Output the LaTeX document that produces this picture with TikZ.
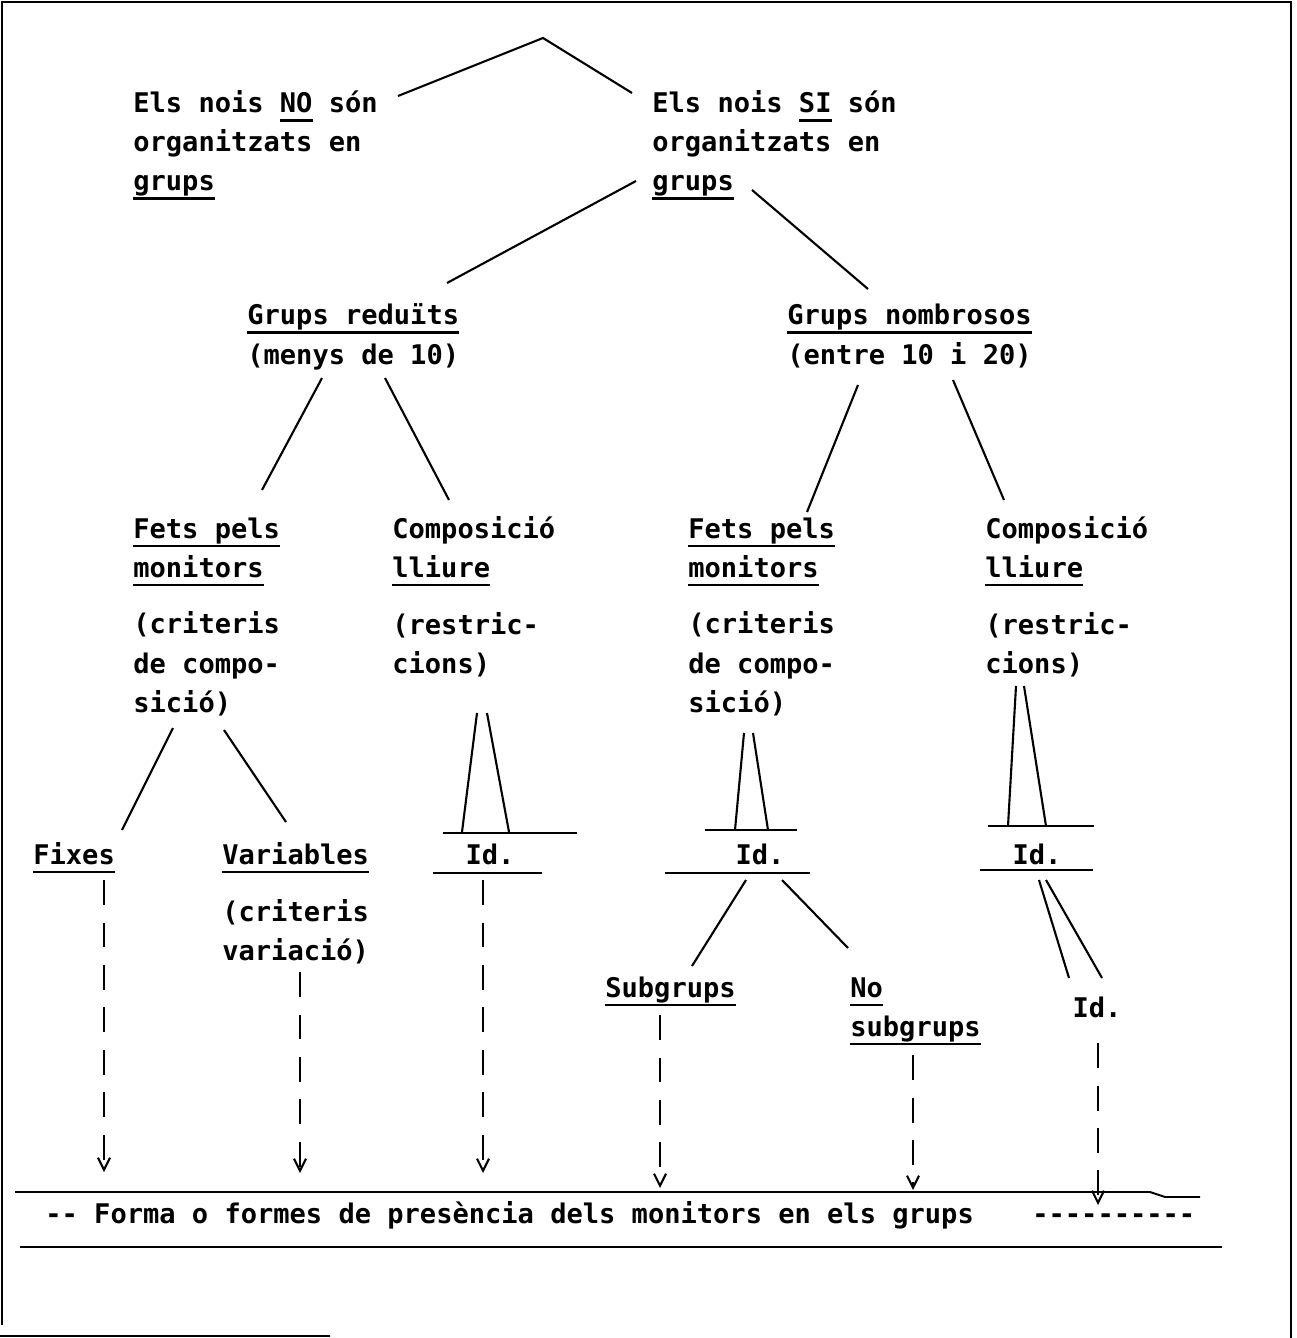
\documentclass[tikz,border=0pt]{standalone}
\usepackage{fontspec}
\setmonofont{DejaVu Sans Mono}
\usetikzlibrary{arrows.meta}
\newsavebox\ulbox
\newcommand\ulr[1]{\sbox\ulbox{#1}\rlap{\rule[-5pt]{\wd\ulbox}{1.3pt}}\usebox\ulbox}

\begin{document}
\begin{tikzpicture}[x=0.02cm, y=-0.02cm,
    every node/.style={font=\ttfamily\bfseries\fontsize{15.4}{22.2}\selectfont, inner sep=0pt},
    txt/.style={anchor=base west, align=left},
    idt/.style={anchor=base},
    br/.style={line width=1.2pt},
    bar/.style={line width=1.1pt},
    dsh/.style={line width=1.1pt, dash pattern=on 0.5cm off 0.35cm,
      -{Straight Barb[length=2.4mm, width=2.4mm, line width=1.2pt]}},
    frame/.style={line width=1pt},
  ]
  \useasboundingbox (0,0) rectangle (1297,1338);

  % frame
  \draw[frame] (2,1325) -- (2,2) -- (1291,2) -- (1291,1338);
  \draw[frame] (0,1336) -- (330,1336);

  % texts (multi-line nodes sit on the baseline of their last line)
  \node[txt] (no)  at (133,191) {Els nois \ulr{NO} són\\organitzats en\\\ulr{grups}};
  \node[txt] (si)  at (652,191) {Els nois \ulr{SI} són\\organitzats en\\\ulr{grups}};
  \node[txt] (red) at (247,364) {\ulr{Grups reduïts}\\(menys de 10)};
  \node[txt] (nom) at (787,364) {\ulr{Grups nombrosos}\\(entre 10 i 20)};
  \node[txt] (fm1) at (133,577) {\ulr{Fets pels}\\\ulr{monitors}};
  \node[txt] (cr1) at (133,712) {(criteris\\de compo-\\sició)};
  \node[txt] (cl1) at (392,577) {Composició\\\ulr{lliure}};
  \node[txt] (rs1) at (392,673) {(restric-\\cions)};
  \node[txt] (fm2) at (688,577) {\ulr{Fets pels}\\\ulr{monitors}};
  \node[txt] (cr2) at (688,712) {(criteris\\de compo-\\sició)};
  \node[txt] (cl2) at (985,577) {Composició\\\ulr{lliure}};
  \node[txt] (rs2) at (985,673) {(restric-\\cions)};
  \node[txt] (fix) at (33,864)  {\ulr{Fixes}};
  \node[txt] (var) at (222,864) {\ulr{Variables}};
  \node[txt] (crv) at (222,960) {(criteris\\variació)};
  \node[idt] (id1) at (490,864) {Id.};
  \node[idt] (id2) at (760,864) {Id.};
  \node[idt] (id3) at (1037,864) {Id.};
  \node[txt] (sub) at (605,997) {\ulr{Subgrups}};
  \node[txt] (nsb) at (850,1036) {\ulr{No}\\\ulr{subgrups}};
  \node[idt] (id4) at (1097,1017) {Id.};
  \node[txt] (forma) at (45,1223) {-- Forma o formes de presència dels monitors en els grups};
  \node[txt] (rest)  at (1032,1223) {----------};

  % branch ends
  \coordinate (apex) at (543,38);
  \coordinate (no-t) at (398,96);   \coordinate (si-t) at (632,93);
  \coordinate (si-l) at (636,181);  \coordinate (red-t) at (447,283);
  \coordinate (si-r) at (752,190);  \coordinate (nom-t) at (868,289);
  \coordinate (red-l) at (322,378); \coordinate (fm1-t) at (262,490);
  \coordinate (red-r) at (385,378); \coordinate (cl1-t) at (449,500);
  \coordinate (nom-l) at (858,385); \coordinate (fm2-t) at (807,512);
  \coordinate (nom-r) at (953,380); \coordinate (cl2-t) at (1004,500);
  \coordinate (cr1-l) at (173,728); \coordinate (fix-t) at (122,830);
  \coordinate (cr1-r) at (224,730); \coordinate (var-t) at (286,822);
  \coordinate (id2-l) at (746,880); \coordinate (sub-t) at (692,966);
  \coordinate (id2-r) at (782,880); \coordinate (nsb-t) at (848,948);

  \draw[br] (no-t) -- (apex) -- (si-t);
  \draw[br] (si-l) -- (red-t);
  \draw[br] (si-r) -- (nom-t);
  \draw[br] (red-l) -- (fm1-t);
  \draw[br] (red-r) -- (cl1-t);
  \draw[br] (nom-l) -- (fm2-t);
  \draw[br] (nom-r) -- (cl2-t);
  \draw[br] (cr1-l) -- (fix-t);
  \draw[br] (cr1-r) -- (var-t);
  \draw[br] (id2-l) -- (sub-t);
  \draw[br] (id2-r) -- (nsb-t);

  % double strokes to Id.
  \draw[br] (477,713) -- (462,832) (487,713) -- (509,832);
  \draw[br] (744,733) -- (735,830) (753,733) -- (768,830);
  \draw[br] (1016,686) -- (1008,826) (1024,686) -- (1046,826);
  \draw[br] (1039,880) -- (1069,978) (1046,880) -- (1102,978);

  % bars round Id.
  \draw[bar] (443,833) -- (577,833) (433,873) -- (542,873);
  \draw[bar] (705,830) -- (797,830) (665,873) -- (810,873);
  \draw[bar] (988,826) -- (1094,826) (980,870) -- (1093,870);

  % dashed arrows down to the band
  \coordinate (a1) at (104,1172);
  \coordinate (a2) at (300,1173);
  \coordinate (a3) at (483,1173);
  \coordinate (a4) at (660,1188);
  \coordinate (a5) at (913,1190);
  \coordinate (a6) at (1098,1205);
  \draw[dsh] (104,880) -- (a1);
  \draw[dsh] (300,972) -- (a2);
  \draw[dsh] (483,880) -- (a3);
  \draw[dsh] (660,1015) -- (a4);
  \draw[dsh] (913,1055) -- (a5);
  \draw[dsh] (1098,1043) -- (a6);

  % band
  \draw[bar] (15,1192) -- (1150,1192) -- (1165,1197) -- (1200,1197);
  \draw[bar] (20,1247) -- (1222,1247);
\end{tikzpicture}
\end{document}
